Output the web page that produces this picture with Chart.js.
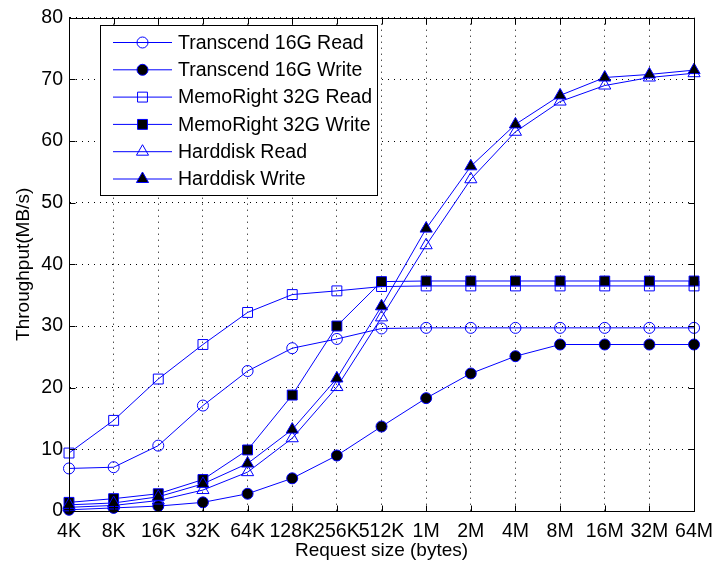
<!DOCTYPE html>
<html lang="en">
<head>
<meta charset="UTF-8">
<title>Throughput vs request size</title>
<script src="https://cdn.jsdelivr.net/npm/chart.js"></script>
<style>
    html, body { margin: 0; padding: 0; background: #fff; }
    #wrap { width: 722px; height: 562px; }
</style>
</head>
<body>
<div id="wrap"><canvas id="myChart" width="722" height="562"></canvas></div>
<script>
    // request sizes on the x axis
    const sizes = ['4K', '8K', '16K', '32K', '64K', '128K', '256K', '512K', '1M', '2M', '4M', '8M', '16M', '32M', '64M'];

    // throughput in MB/s
    const transcendRead  = [6.9, 7.1, 10.6, 17.1, 22.7, 26.4, 27.9, 29.6, 29.7, 29.7, 29.7, 29.7, 29.7, 29.7, 29.7];
    const transcendWrite = [0.2, 0.5, 0.8, 1.4, 2.8, 5.3, 9.0, 13.7, 18.3, 22.3, 25.1, 27.0, 27.0, 27.0, 27.0];
    const memoRead       = [9.4, 14.7, 21.4, 27.0, 32.2, 35.1, 35.7, 36.4, 36.5, 36.5, 36.5, 36.5, 36.5, 36.5, 36.5];
    const memoWrite      = [1.4, 2.0, 2.8, 5.1, 9.9, 18.8, 30.0, 37.2, 37.3, 37.3, 37.3, 37.3, 37.3, 37.3, 37.3];
    const hddRead        = [0.6, 0.9, 1.7, 3.4, 6.3, 11.8, 20.1, 31.4, 43.1, 53.8, 61.5, 66.4, 69.0, 70.3, 71.0];
    const hddWrite       = [1.0, 1.3, 2.3, 4.4, 7.7, 13.2, 21.5, 33.2, 45.8, 55.9, 62.7, 67.4, 70.3, 70.8, 71.5];

    const yTicks = [0, 10, 20, 30, 40, 50, 60, 70, 80];

    const seriesNames = ['Transcend 16G Read', 'Transcend 16G Write', 'MemoRight 32G Read',
                         'MemoRight 32G Write', 'Harddisk Read', 'Harddisk Write'];

    const BLUE = '#0000ff';
    const FONT = '"Liberation Sans", Arial, Helvetica, sans-serif';

    function makeSet(i, values, shape, filled, radius) {
        return {
            label: seriesNames[i],
            data: values,
            borderColor: BLUE,
            borderWidth: 1,
            fill: false,
            tension: 0,
            pointStyle: shape,
            pointRadius: radius,
            pointBorderColor: BLUE,
            pointBorderWidth: 1,
            pointBackgroundColor: filled ? '#000' : 'rgba(0,0,0,0)',
            clip: false,
            order: 10 - i
        };
    }

    const datasets = [
        makeSet(0, transcendRead, 'circle', false, 5.5),
        makeSet(1, transcendWrite, 'circle', true, 5.5),
        makeSet(2, memoRead, 'rect', false, 7),
        makeSet(3, memoWrite, 'rect', true, 7),
        makeSet(4, hddRead, 'triangle', false, 7),
        makeSet(5, hddWrite, 'triangle', true, 7)
    ];

    // matlab style: box on all sides, ticks pointing inward
    const boxPlugin = {
        id: 'boxTicks',
        afterDraw(chart) {
            const ctx = chart.ctx;
            const a = chart.chartArea;
            const xs = chart.scales.x, ys = chart.scales.y;
            const L = Math.round(a.left) + 0.5, R = Math.round(a.right) + 0.5;
            const T = Math.round(a.top) + 0.5, B = Math.round(a.bottom) + 0.5;
            ctx.save();
            ctx.strokeStyle = '#000';
            ctx.lineWidth = 1;
            ctx.beginPath();
            ctx.rect(L, T, R - L, B - T);
            for (let i = 0; i < sizes.length; i++) {
                const px = Math.round(xs.getPixelForValue(i)) + 0.5;
                ctx.moveTo(px, B); ctx.lineTo(px, B - 6);
                ctx.moveTo(px, T); ctx.lineTo(px, T + 6);
            }
            yTicks.forEach(v => {
                const py = Math.round(ys.getPixelForValue(v)) + 0.5;
                ctx.moveTo(L, py); ctx.lineTo(L + 6, py);
                ctx.moveTo(R, py); ctx.lineTo(R - 6, py);
            });
            ctx.stroke();
            ctx.restore();
        }
    };

    function marker(ctx, shape, x, y, r, filled) {
        ctx.beginPath();
        if (shape === 'circle') {
            ctx.arc(x, y, r, 0, Math.PI * 2);
        } else if (shape === 'rect') {
            const s = r * Math.SQRT1_2;
            ctx.rect(x - s, y - s, 2 * s, 2 * s);
        } else {
            ctx.moveTo(x, y - r);
            ctx.lineTo(x + r * Math.sin(Math.PI * 2 / 3), y + r / 2);
            ctx.lineTo(x - r * Math.sin(Math.PI * 2 / 3), y + r / 2);
            ctx.closePath();
        }
        if (filled) { ctx.fillStyle = '#000'; ctx.fill(); }
        ctx.strokeStyle = BLUE;
        ctx.stroke();
    }

    // legend box drawn by hand (line + marker sample like matlab)
    const legendPlugin = {
        id: 'boxLegend',
        afterDraw(chart) {
            const ctx = chart.ctx;
            const bx = 100.5, by = 25.5, bw = 277, bh = 170;
            ctx.save();
            ctx.fillStyle = '#fff';
            ctx.fillRect(bx, by, bw, bh);
            ctx.strokeStyle = '#000';
            ctx.lineWidth = 1;
            ctx.strokeRect(bx, by, bw, bh);
            datasets.forEach((ds, i) => {
                const y = 42.5 + i * 27.3;
                ctx.strokeStyle = BLUE;
                ctx.beginPath();
                ctx.moveTo(113, y); ctx.lineTo(172, y);
                ctx.stroke();
                marker(ctx, ds.pointStyle, 142.5, y, ds.pointRadius, ds.pointBackgroundColor === '#000');
                ctx.fillStyle = '#000';
                ctx.font = '19.5px ' + FONT;
                ctx.textBaseline = 'middle';
                ctx.textAlign = 'left';
                ctx.fillText(ds.label, 178, y + 1);
            });
            ctx.restore();
        }
    };

    const ctx = document.getElementById('myChart').getContext('2d');
    const myChart = new Chart(ctx, {
        type: 'line',
        data: { labels: sizes, datasets: datasets },
        plugins: [boxPlugin, legendPlugin],
        options: {
            responsive: false,
            animation: false,
            layout: { padding: { left: 0, top: 11, right: 19, bottom: 0 } },
            plugins: {
                legend: { display: false },
                tooltip: { enabled: false }
            },
            scales: {
                x: {
                    type: 'category',
                    offset: false,
                    afterFit: (scale) => { scale.height = 51; },
                    grid: { color: '#000', lineWidth: 1, drawTicks: false },
                    border: { display: true, color: '#000', width: 1, dash: [1, 5] },
                    ticks: {
                        color: '#000', padding: 9, maxRotation: 0, autoSkip: false,
                        font: { family: FONT, size: 19.5 }
                    },
                    title: {
                        display: true, text: 'Request size (bytes)', color: '#000',
                        padding: { top: 0, bottom: 0 },
                        font: { family: FONT, size: 19 }
                    }
                },
                y: {
                    min: 0,
                    max: 80,
                    afterFit: (scale) => { scale.width = 69; },
                    afterBuildTicks: (scale) => { scale.ticks = yTicks.map(v => ({ value: v })); },
                    grid: { color: '#000', lineWidth: 1, drawTicks: false },
                    border: { display: true, color: '#000', width: 1, dash: [1, 5] },
                    ticks: {
                        color: '#000', padding: 6,
                        font: { family: FONT, size: 19.5 }
                    },
                    title: {
                        display: true, text: 'Throughput(MB/s)', color: '#000',
                        padding: { top: 12, bottom: 0 },
                        font: { family: FONT, size: 19 }
                    }
                }
            }
        }
    });
</script>
</body>
</html>
